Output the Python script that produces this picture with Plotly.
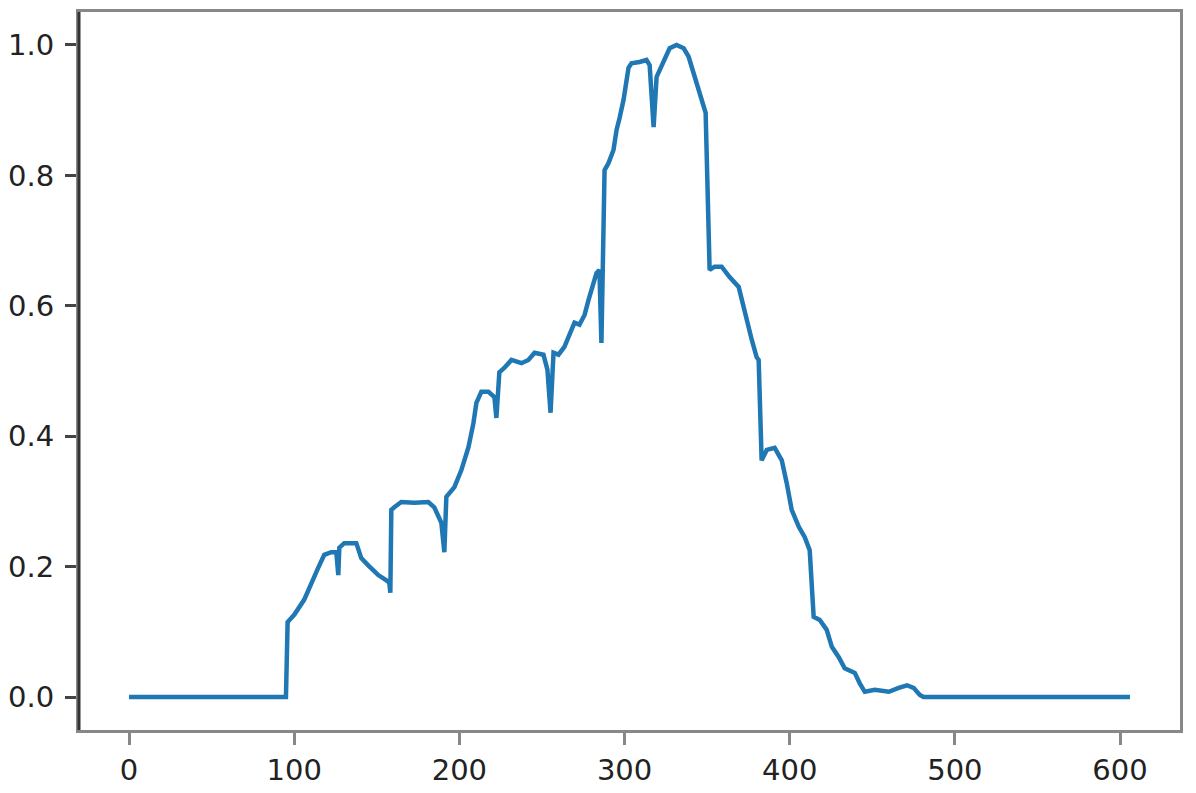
import plotly.graph_objects as go

# Values
x_vals = [0, 94, 95, 96, 100, 106, 110.3, 114.5, 118.2, 122.4, 125.5, 126.7, 127.3, 130.3, 137.6,
          140.6, 144.8, 150.9, 155.8, 157.6, 158.2, 158.8, 160.6, 164.8, 172.7, 181.2, 184.8, 189.1,
          190.9, 192.1, 197, 201.2, 205.5, 208.5, 210.3, 213.3, 217.6, 221.2, 222.4, 224.2, 227.3,
          231.5, 237.6, 241.8, 245.5, 250.9, 253.3, 255.2, 257, 260, 263.6, 266.7, 269.7, 272.7,
          275.8, 278.2, 283, 284.8, 286, 287.9, 290.3, 293.3, 295.2, 297, 299.4, 302.4, 304.2,
          309.1, 313.3, 315.2, 317.6, 319.4, 321.2, 324.2, 327.3, 331.5, 335.8, 338.8, 341.8,
          344.8, 347.9, 349.1, 351.5, 354.5, 358.8, 363.6, 369.1, 372.7, 377, 380, 381.2, 383,
          386.1, 390.9, 395.2, 398.2, 401.2, 405.5, 409.1, 412.1, 414.5, 418.2, 422.4, 425.5,
          429.7, 433.3, 439.4, 442.4, 445.5, 451.5, 460, 466, 471, 475, 478.8, 481, 606]
y_vals = [0, 0, 0, 0.115, 0.126, 0.149, 0.175, 0.198, 0.218, 0.222, 0.222, 0.187, 0.229, 0.236, 0.236,
          0.213, 0.202, 0.187, 0.179, 0.175, 0.16, 0.287, 0.291, 0.299, 0.298, 0.299, 0.291, 0.267,
          0.222, 0.307, 0.322, 0.348, 0.383, 0.42, 0.451, 0.468, 0.468, 0.46, 0.428, 0.498, 0.505,
          0.517, 0.512, 0.517, 0.528, 0.525, 0.502, 0.436, 0.528, 0.525, 0.537, 0.558, 0.574, 0.571,
          0.586, 0.609, 0.65, 0.655, 0.543, 0.808, 0.819, 0.839, 0.87, 0.888, 0.916, 0.965, 0.972,
          0.974, 0.977, 0.969, 0.874, 0.951, 0.962, 0.977, 0.995, 1.0, 0.995, 0.982, 0.957,
          0.931, 0.905, 0.896, 0.655, 0.66, 0.66, 0.644, 0.629, 0.589, 0.548, 0.521, 0.517, 0.363,
          0.379, 0.382, 0.363, 0.328, 0.287, 0.261, 0.245, 0.225, 0.123, 0.118, 0.103, 0.077,
          0.061, 0.044, 0.037, 0.021, 0.008, 0.011, 0.008, 0.014, 0.018, 0.014, 0.003, 0, 0]

x_ticks = [0, 100, 200, 300, 400, 500, 600]
y_ticks = [0.0, 0.2, 0.4, 0.6, 0.8, 1.0]
y_tick_text = ["0.0", "0.2", "0.4", "0.6", "0.8", "1.0"]

fig = go.Figure()
fig.add_trace(go.Scatter(x=x_vals, y=y_vals, mode="lines",
                         line=dict(color="#1f77b4", width=4.5), showlegend=False))

font = dict(family="DejaVu Sans", size=29, color="#222222")
fig.update_layout(
    width=1196, height=793,
    margin=dict(l=79, r=16, t=12, b=63, pad=0),
    paper_bgcolor="white", plot_bgcolor="white",
    font=font,
    xaxis=dict(range=[-30.3, 636.3], tickvals=x_ticks, ticks="outside", ticklen=12,
               tickwidth=3, tickcolor="#888888", showgrid=False, zeroline=False,
               showline=True, linecolor="#888888", linewidth=3, mirror=True,
               tickfont=font, ticklabelstandoff=0, automargin=False),
    yaxis=dict(range=[-0.0506, 1.0506], tickvals=y_ticks, ticktext=y_tick_text,
               ticks="outside", ticklen=11, tickwidth=3, tickcolor="#444444",
               showgrid=False, zeroline=False, showline=True, linecolor="#888888",
               linewidth=3, mirror=True, tickfont=font, ticklabelstandoff=5,
               automargin=False),
    shapes=[dict(type="line", xref="paper", yref="paper", x0=0, x1=0, y0=0, y1=1,
                 line=dict(color="#333333", width=3))],
)
fig.write_html("out.html", config={"displayModeBar": False},
               post_script="document.body.style.margin='0px';document.body.style.overflow='hidden';")
